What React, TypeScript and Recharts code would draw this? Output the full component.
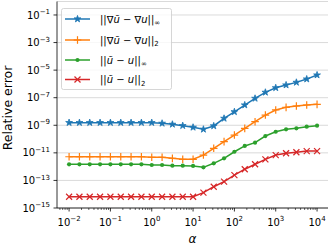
import React from 'react';
import { LineChart, Line, XAxis, YAxis, CartesianGrid, Legend, Label } from 'recharts';

const FONT = '"DejaVu Sans", sans-serif';

// alpha values, quarter-decade steps from 1e-2 to 1e4
const ALPHA = [
  0.01, 0.0178, 0.0316, 0.0562, 0.1, 0.178, 0.316, 0.562, 1, 1.78, 3.16, 5.62, 10,
  17.8, 31.6, 56.2, 100, 178, 316, 562, 1000, 1780, 3160, 5620, 10000,
];

// ||grad u~ - grad u||_inf
const GRAD_INF = [
  1.55e-9, 1.55e-9, 1.55e-9, 1.55e-9, 1.55e-9, 1.55e-9, 1.55e-9, 1.55e-9, 1.55e-9,
  1.38e-9, 1.17e-9, 9.3e-10, 7.1e-10, 5.1e-10, 8.9e-10, 3.16e-9, 9.5e-9, 2.95e-8,
  8.9e-8, 2.45e-7, 5.2e-7, 8.3e-7, 1.29e-6, 2.24e-6, 4.4e-6,
];

// ||grad u~ - grad u||_2
const GRAD_L2 = [
  5.2e-12, 5.2e-12, 5.2e-12, 5.2e-12, 5.2e-12, 5.2e-12, 5.2e-12, 5.2e-12, 4.8e-12,
  4.8e-12, 4.0e-12, 3.4e-12, 3.4e-12, 6.9e-12, 2.14e-11, 6.5e-11, 1.95e-10, 6.0e-10,
  1.82e-9, 5.5e-9, 1.29e-8, 2.0e-8, 2.5e-8, 2.95e-8, 3.3e-8,
];

// ||u~ - u||_inf
const U_INF = [
  1.48e-12, 1.48e-12, 1.48e-12, 1.48e-12, 1.48e-12, 1.48e-12, 1.48e-12, 1.48e-12,
  1.32e-12, 1.32e-12, 1.17e-12, 1.17e-12, 1.12e-12, 8.9e-13, 1.74e-12, 4.0e-12,
  1.2e-11, 3.16e-11, 5.5e-11, 1.66e-10, 3.4e-10, 5.1e-10, 6.0e-10, 7.9e-10, 9.3e-10,
];

// ||u~ - u||_2
const U_L2 = [
  6.6e-15, 6.6e-15, 6.6e-15, 6.6e-15, 6.6e-15, 6.6e-15, 6.6e-15, 6.6e-15, 6.6e-15,
  6.6e-15, 6.6e-15, 6.6e-15, 6.6e-15, 1.29e-14, 3.5e-14, 8.1e-14, 2.45e-13, 6.5e-13,
  1.48e-12, 3.4e-12, 6.9e-12, 9.3e-12, 1.1e-11, 1.35e-11, 1.35e-11,
];

const X_MAJOR = [0.01, 0.1, 1, 10, 100, 1000, 10000];
const Y_MAJOR = [1e-15, 1e-13, 1e-11, 1e-9, 1e-7, 1e-5, 1e-3, 1e-1];
const X_DOMAIN = [0.0051, 18400];
const Y_DOMAIN = [1e-15, 0.95];

const X_MINOR: number[] = [];
[0.001, 0.01, 0.1, 1, 10, 100, 1000].forEach((d) => {
  for (let m = 2; m <= 9; m++) {
    const v = +(m * d).toPrecision(3);
    if (v > X_DOMAIN[0] && v < X_DOMAIN[1]) X_MINOR.push(v);
  }
});
const X_TICKS = [...X_MAJOR, ...X_MINOR].sort((a, b) => a - b);

const SERIES = [
  { key: 'gradInf', color: '#1f77b4', marker: 'star', grad: true, sub: '∞' },
  { key: 'gradL2', color: '#ff7f0e', marker: 'plus', grad: true, sub: '2' },
  { key: 'uInf', color: '#2ca02c', marker: 'dot', grad: false, sub: '∞' },
  { key: 'uL2', color: '#d62728', marker: 'x', grad: false, sub: '2' },
];

const data = ALPHA.map((a, i) => ({
  alpha: a,
  gradInf: GRAD_INF[i],
  gradL2: GRAD_L2[i],
  uInf: U_INF[i],
  uL2: U_L2[i],
}));

const expText = (v: number) => {
  const e = Math.round(Math.log10(v));
  return e < 0 ? `\u2212${-e}` : `${e}`;
};

function Marker({ type, cx, cy, color }: any) {
  if (cx == null || cy == null) return null;
  if (type === 'star') {
    const pts: string[] = [];
    for (let i = 0; i < 10; i++) {
      const r = i % 2 === 0 ? 3.6 : 1.4;
      const a = -Math.PI / 2 + (i * Math.PI) / 5;
      pts.push(`${cx + r * Math.cos(a)},${cy + r * Math.sin(a)}`);
    }
    return <polygon points={pts.join(' ')} fill={color} stroke={color} strokeWidth={0.8} />;
  }
  if (type === 'plus') {
    return (
      <g stroke={color} strokeWidth={1.2}>
        <line x1={cx - 3.8} x2={cx + 3.8} y1={cy} y2={cy} />
        <line x1={cx} x2={cx} y1={cy - 3.8} y2={cy + 3.8} />
      </g>
    );
  }
  if (type === 'dot') {
    return <circle cx={cx} cy={cy} r={2.1} fill={color} />;
  }
  return (
    <g stroke={color} strokeWidth={1.2}>
      <line x1={cx - 3} x2={cx + 3} y1={cy - 3} y2={cy + 3} />
      <line x1={cx - 3} x2={cx + 3} y1={cy + 3} y2={cy - 3} />
    </g>
  );
}

function XTick({ x, y, payload }: any) {
  const v = payload.value;
  const e = Math.log10(v);
  if (Math.abs(e - Math.round(e)) > 1e-6) {
    return <line x1={x} x2={x} y1={y} y2={y + 2} stroke="#000" strokeWidth={0.6} />;
  }
  return (
    <g>
      <line x1={x} x2={x} y1={y} y2={y + 3.5} stroke="#000" strokeWidth={0.8} />
      <text x={x} y={y + 18} textAnchor="middle" fontSize={10} fontFamily={FONT} fill="#000">
        <tspan>10</tspan>
        <tspan dy={-5.5} fontSize={7}>{expText(v)}</tspan>
      </text>
    </g>
  );
}

function YTick({ x, y, payload }: any) {
  return (
    <g>
      <line x1={x - 3.5} x2={x} y1={y} y2={y} stroke="#000" strokeWidth={0.8} />
      <text x={x - 7} y={y + 3.6} textAnchor="end" fontSize={10} fontFamily={FONT} fill="#000">
        <tspan>10</tspan>
        <tspan dy={-4.5} fontSize={7}>{expText(payload.value)}</tspan>
      </text>
    </g>
  );
}

function LegendBox() {
  const rows = [11, 32, 52, 71.5];
  return (
    <svg width={112} height={83} style={{ display: 'block' }}>
      <rect x={0.5} y={0.5} width={110} height={81} rx={2} fill="#fff" fillOpacity={0.8} stroke="#cccccc" strokeWidth={0.8} />
      {SERIES.map((s, i) => (
        <g key={s.key}>
          <line x1={4} x2={29} y1={rows[i]} y2={rows[i]} stroke={s.color} strokeWidth={1.5} />
          <Marker type={s.marker} cx={16.5} cy={rows[i]} color={s.color} />
          <text x={39} y={rows[i] + 3.5} fontSize={10} fontFamily={FONT} fill="#000">
            <tspan>||</tspan>
            {s.grad && <tspan>∇</tspan>}
            <tspan fontStyle="italic">ũ</tspan>
            <tspan>{'\u00a0\u2212\u00a0'}</tspan>
            {s.grad && <tspan>∇</tspan>}
            <tspan fontStyle="italic">u</tspan>
            <tspan>||</tspan>
            <tspan fontSize={7} dy={2.5}>{s.sub}</tspan>
          </text>
        </g>
      ))}
    </svg>
  );
}

export default function App() {
  return (
    <div style={{ position: 'absolute', left: 0, top: 0, background: '#fff' }}>
      <LineChart width={332} height={249} data={data} margin={{ top: 1.5, right: 4, left: 0, bottom: 0 }}>
        <CartesianGrid
          stroke="#d0d0d0"
          strokeWidth={0.8}
          verticalCoordinatesGenerator={({ xAxis }: any) =>
            xAxis && typeof xAxis.scale === 'function' ? X_MAJOR.map((v) => xAxis.scale(v)) : []
          }
        />
        <XAxis
          dataKey="alpha"
          type="number"
          scale="log"
          domain={X_DOMAIN}
          allowDataOverflow
          ticks={X_TICKS}
          interval={0}
          tick={<XTick />}
          tickLine={false}
          tickSize={0}
          tickMargin={0}
          height={41}
          axisLine={{ stroke: '#000', strokeWidth: 0.8 }}
        >
          <Label
            content={() => (
              <text x={192.5} y={243} textAnchor="middle" fontSize={12} fontStyle="italic" fontFamily={FONT} fill="#000">
                α
              </text>
            )}
          />
        </XAxis>
        <XAxis xAxisId="top" orientation="top" type="number" domain={[0, 1]} height={0} tick={false} tickLine={false} axisLine={{ stroke: '#000', strokeWidth: 0.8 }} />
        <YAxis
          type="number"
          scale="log"
          domain={Y_DOMAIN}
          allowDataOverflow
          ticks={Y_MAJOR}
          interval={0}
          tick={<YTick />}
          tickLine={false}
          tickSize={0}
          tickMargin={0}
          width={57}
          axisLine={{ stroke: '#000', strokeWidth: 0.8 }}
        >
          <Label
            content={() => (
              <text x={12} y={108} transform="rotate(-90 12 108)" textAnchor="middle" fontSize={12.5} fontFamily={FONT} fill="#000">
                Relative error
              </text>
            )}
          />
        </YAxis>
        <YAxis yAxisId="right" orientation="right" type="number" domain={[0, 1]} width={0} tick={false} tickLine={false} axisLine={{ stroke: '#000', strokeWidth: 0.8 }} />
        {SERIES.map((s) => (
          <Line
            key={s.key}
            dataKey={s.key}
            type="linear"
            stroke={s.color}
            strokeWidth={1.5}
            isAnimationActive={false}
            dot={(p: any) => <Marker key={`${s.key}-${p.index}`} type={s.marker} cx={p.cx} cy={p.cy} color={s.color} />}
            activeDot={false}
          />
        ))}
        <Legend
          layout="vertical"
          align="center"
          verticalAlign="middle"
          wrapperStyle={{ position: 'absolute', left: 61, top: 8, width: 112, height: 83 }}
          content={() => <LegendBox />}
        />
      </LineChart>
    </div>
  );
}
